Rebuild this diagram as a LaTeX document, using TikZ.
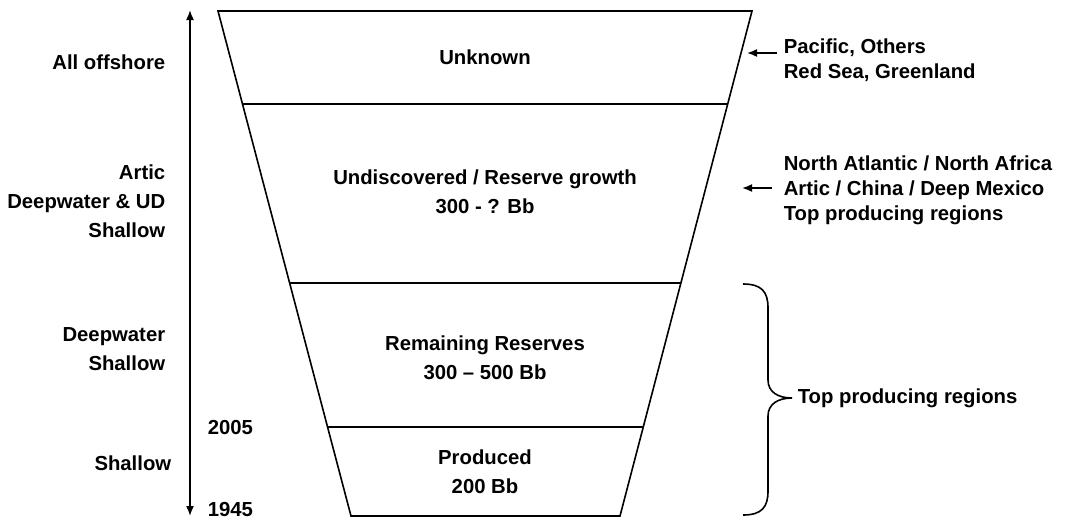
\documentclass[tikz,border=0pt]{standalone}
\usepackage{fontspec}
\setmainfont{Liberation Sans}
\usepackage{tikz}
\usetikzlibrary{arrows.meta}
\usetikzlibrary{calc, positioning}
\tikzstyle{layer}=[align=center]
\tikzstyle{side}=[align=right, anchor=east]
\tikzstyle{region}=[align=left, anchor=west, font=\bfseries\fontsize{20.3pt}{25pt}\selectfont]

\begin{document}
\begin{tikzpicture}[x=1pt, y=-1pt]

\tikzset{>={Latex[length=10pt, width=8pt]}}
\tikzset{every node/.style={inner sep=0pt, font=\bfseries\fontsize{20.3pt}{29pt}\selectfont}}
\tikzset{every path/.style={line width=1.6pt}}

\useasboundingbox (0,0) rectangle (1073,523);

% Funnel outline
\coordinate (tl) at (218,11);
\coordinate (tr) at (752,11);
\coordinate (bl) at (351,516);
\coordinate (br) at (620,516);
\draw (tl) -- (tr) -- (br) -- (bl) -- cycle;

% Layer borders
\foreach \t in {0.184, 0.5386, 0.8238}
  \draw ($(tl)!\t!(bl)$) -- ($(tr)!\t!(br)$);

% Layer labels
\node[layer] (unknown) at (485,57) {Unknown};
\node[layer] (undisc) at (485,191.5) {Undiscovered / Reserve growth\\300 - ? Bb};
\node[layer] (remain) at (485,357.5) {Remaining Reserves\\300 – 500 Bb};
\node[layer] (produced) at (485,471.5) {Produced\\200 Bb};

% Time axis and where the oil is found
\coordinate (tTop) at (190,10);
\coordinate (tBot) at (190,516);
\draw[<->] (tBot) -- (tTop);

\node[side] (offshore) at (166,62) {All offshore};
\node[side] (artic) at (166,201) {Artic\\Deepwater \& UD\\Shallow};
\node[side] (deep) at (166,349.5) {Deepwater\\Shallow};
\node[side] (shallow) at (172,463) {Shallow};
\node[anchor=west] (y2005) at (207,428) {2005};
\node[anchor=west] (y1945) at (207,510) {1945};

% Regions on the right
\node[region] (pacific) at (783,60) {Pacific, Others\\Red Sea, Greenland};
\node[region] (atlantic) at (783,190) {North Atlantic / North Africa\\Artic / China / Deep Mexico\\Top producing regions};

\coordinate (pacTail) at (777,53);
\coordinate (pacTip) at (747,53);
\draw[->] (pacTail) -- (pacTip);
\coordinate (atlTail) at (772,188);
\coordinate (atlTip) at (742,188);
\draw[->] (atlTail) -- (atlTip);

% Brace over the lower layers
\coordinate (brTop) at (743,284);
\coordinate (brBot) at (743,515);
\coordinate (brTip) at (792,398);
\draw (brTop) .. controls (762,284) and (768,292) .. (768,308) -- (768,380)
  .. controls (768,392) and (778,398) .. (brTip);
\draw (brBot) .. controls (762,515) and (768,507) .. (768,491) -- (768,416)
  .. controls (768,404) and (778,398) .. (brTip);
\node[anchor=west] (topprod) at (797,398) {Top producing regions};

\end{tikzpicture}
\end{document}
